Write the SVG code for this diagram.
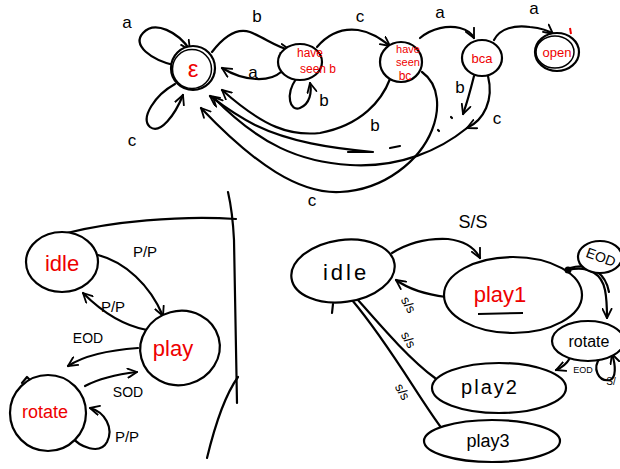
<svg xmlns="http://www.w3.org/2000/svg" width="620" height="469" viewBox="0 0 620 469">
<defs>
<marker id="arr" viewBox="0 0 12 12" refX="11" refY="6" markerWidth="11" markerHeight="11" orient="auto" markerUnits="userSpaceOnUse">
<path d="M1,1 L11,6 L1,11" fill="none" stroke="#000" stroke-width="2" stroke-linecap="round" stroke-linejoin="round"/>
</marker>
<style>
.s{fill:none;stroke:#000;stroke-width:2.2;stroke-linecap:round;stroke-linejoin:round}
.n{fill:#fff;stroke:#000;stroke-width:2.2}
.a{marker-end:url(#arr)}
.r{fill:#e00;font-family:"Liberation Sans",Arial,sans-serif;text-anchor:middle}
.k{fill:#000;font-family:"Liberation Sans",Arial,sans-serif;text-anchor:middle}
</style>
</defs>
<rect width="620" height="469" fill="#fff"/>

<g id="connectors">
<!-- top diagram -->
<path class="s a" d="M177,66 C150,60 132,45 143,33 C155,20 178,32 190,50"/>
<path class="s a" d="M175,84 C155,95 140,118 150,127 C160,135 175,115 183,95"/>
<path class="s a" d="M212,52 C225,35 238,28 250,32 C265,38 278,48 290,50"/>
<path class="s a" d="M281,72 C270,82 245,82 222,68"/>
<path class="s a" d="M296,79 C285,95 290,112 300,108 C310,104 312,92 310,83"/>
<path class="s a" d="M317,47 C328,34 342,28 358,30 C372,32 382,40 390,46"/>
<path class="s a" d="M420,38 C432,28 448,25 460,28 C468,30 472,34 474,38"/>
<path class="s a" d="M494,40 C500,28 515,25 530,27 C540,28 548,30 553,34"/>
<path class="s a" d="M390,79 C382,100 362,125 320,133 C290,136 265,128 222,90"/>
<path class="s a" d="M474,76 C470,92 467,103 463,114"/>
<path class="s" d="M451,117 L452,118 M438,130 L439,131 M390,148 L400,146 M348,152 L372,152"/>
<path class="s a" d="M373,152 C330,148 290,142 255,125 C235,115 222,105 210,96"/>
<path class="s a" d="M488,76 C494,100 484,120 467,128"/>
<path class="s a" d="M467,128 C440,150 400,168 350,165 C300,162 260,145 213,97"/>
<path class="s a" d="M422,72 C440,85 440,110 432,130 C420,160 385,190 340,192 C300,194 255,165 201,108"/>
<!-- bottom-left diagram -->
<path class="s" d="M228,192 C231,205 233,220 234,240 L237,403"/>
<path class="s" d="M238,377 C225,395 215,425 207,458"/>
<path class="s" d="M236,219 C180,215 110,222 67,233"/>
<path class="s" d="M41,247 L45,241 L50,246"/>
<path class="s" d="M22,383 L27,377 L32,382"/>
<path class="s a" d="M98,255 C125,262 150,285 163,316"/>
<path class="s a" d="M147,330 C120,325 100,310 83,293"/>
<path class="s a" d="M138,348 C110,350 85,355 68,366"/>
<path class="s a" d="M85,386 C100,378 120,374 137,372"/>
<path class="s a" d="M70,435 C80,448 100,455 107,442 C114,428 105,412 90,408"/>
<!-- bottom-right diagram -->
<path class="s a" d="M392,253 C408,243 428,238 448,239 C465,241 475,248 480,258"/>
<path class="s a" d="M446,297 C430,295 410,290 396,280"/>
<path class="s" d="M435,378 C410,360 380,325 358,300"/>
<path class="s" d="M443,430 C420,400 390,345 352,300"/>
<path class="s" d="M333,304 L332,313"/>
<path class="s a" d="M568,270 C590,265 602,275 605,290 C607,300 607,310 607,318"/>
<path class="s" d="M570,268 C592,262 606,275 609,292"/>
<path class="s a" d="M570,358 C566,365 561,368 556,370"/>
<path class="s a" d="M600,358 C592,368 598,382 610,380 C616,378 616,366 612,354"/>
</g>

<g id="eps">
<circle class="n" cx="193" cy="68" r="22" stroke-width="3"/>
<circle cx="192" cy="69" r="19.5" fill="none" stroke="#000" stroke-width="1.5"/>
<text class="r" x="193" y="77" font-size="24">ε</text>
</g>
<g id="have-seen-b">
<ellipse class="n" cx="300" cy="62" rx="22" ry="18"/>
<text class="r" x="310" y="57" font-size="12">have</text>
<text class="r" x="318" y="73" font-size="12">seen b</text>
</g>
<g id="have-seen-bc">
<ellipse class="n" cx="401" cy="62" rx="21" ry="20"/>
<text class="r" x="408" y="53" font-size="11">have</text>
<text class="r" x="408" y="66" font-size="11">seen</text>
<text class="r" x="405" y="80" font-size="12">bc</text>
</g>
<g id="bca">
<ellipse class="n" cx="482" cy="58" rx="20" ry="18"/>
<text class="r" x="482" y="63" font-size="13">bca</text>
</g>
<g id="open">
<ellipse class="n" cx="557" cy="52" rx="22" ry="19" stroke-width="3"/>
<ellipse cx="555" cy="52" rx="19" ry="16" fill="none" stroke="#000" stroke-width="1.5"/>
<text class="r" x="557" y="57" font-size="13">open</text>
<path d="M570,28 L571,34" stroke="#e00" stroke-width="2" fill="none"/>
</g>

<g id="top-labels">
<text class="k" x="127" y="28" font-size="17">a</text>
<text class="k" x="257" y="22" font-size="17">b</text>
<text class="k" x="253" y="78" font-size="17">a</text>
<text class="k" x="324" y="106" font-size="17">b</text>
<text class="k" x="360" y="22" font-size="17">c</text>
<text class="k" x="440" y="18" font-size="17">a</text>
<text class="k" x="534" y="14" font-size="17">a</text>
<text class="k" x="132" y="146" font-size="17">c</text>
<text class="k" x="375" y="131" font-size="17">b</text>
<text class="k" x="460" y="93" font-size="17">b</text>
<text class="k" x="497" y="124" font-size="17">c</text>
<text class="k" x="312" y="206" font-size="17">c</text>
</g>

<g id="idle-a">
<ellipse class="n" cx="62" cy="262" rx="36" ry="30"/>
<text class="r" x="62" y="271" font-size="22">idle</text>
</g>
<g id="play-a">
<ellipse class="n" cx="180" cy="348" rx="40" ry="37" transform="rotate(-15 180 348)"/>
<text class="r" x="173" y="356" font-size="22">play</text>
</g>
<g id="rotate-a">
<ellipse class="n" cx="48" cy="413" rx="38" ry="38"/>
<text class="r" x="45" y="418" font-size="18">rotate</text>
</g>
<g id="left-labels">
<text class="k" x="145" y="257" font-size="15">P/P</text>
<text class="k" x="113" y="312" font-size="15">P/P</text>
<text class="k" x="88" y="343" font-size="14">EOD</text>
<text class="k" x="128" y="397" font-size="14">SOD</text>
<text class="k" x="127" y="442" font-size="15">P/P</text>
</g>

<g id="idle-b">
<ellipse class="n" cx="343" cy="271" rx="52" ry="31" transform="rotate(-8 343 271)"/>
<text class="k" x="346" y="280" font-size="22" letter-spacing="3">idle</text>
</g>
<g id="play1">
<ellipse class="n" cx="513" cy="295" rx="69" ry="38"/>
<text class="r" x="500" y="302" font-size="22">play1</text>
<path d="M478,314 L523,313" stroke="#000" stroke-width="2" fill="none"/>
</g>
<g id="play2">
<ellipse class="n" cx="499" cy="388" rx="67" ry="25"/>
<text class="k" x="490" y="394" font-size="20" letter-spacing="2">play2</text>
</g>
<g id="play3">
<ellipse class="n" cx="492" cy="441" rx="68" ry="21"/>
<text class="k" x="488" y="447" font-size="18">play3</text>
</g>
<g id="eod-b">
<ellipse class="n" cx="600" cy="257" rx="22" ry="16"/>
<text class="k" x="601" y="262" font-size="14" transform="rotate(20 601 257)">EOD</text>
</g>
<g id="rotate-b">
<ellipse class="n" cx="588" cy="341" rx="36" ry="20"/>
<text class="k" x="589" y="347" font-size="16">rotate</text>
</g>
<circle cx="568" cy="270" r="3.5" fill="#000"/>
<g id="right-labels">
<text class="k" x="473" y="228" font-size="18">S/S</text>
<text class="k" x="408" y="309" font-size="13" transform="rotate(60 408 305)">s/s</text>
<text class="k" x="408" y="344" font-size="13" transform="rotate(60 408 340)">s/s</text>
<text class="k" x="402" y="396" font-size="13" transform="rotate(60 402 392)">s/s</text>
<text class="k" x="583" y="373" font-size="9">EOD</text>
<text class="k" x="611" y="385" font-size="10">S/</text>
</g>
</svg>
